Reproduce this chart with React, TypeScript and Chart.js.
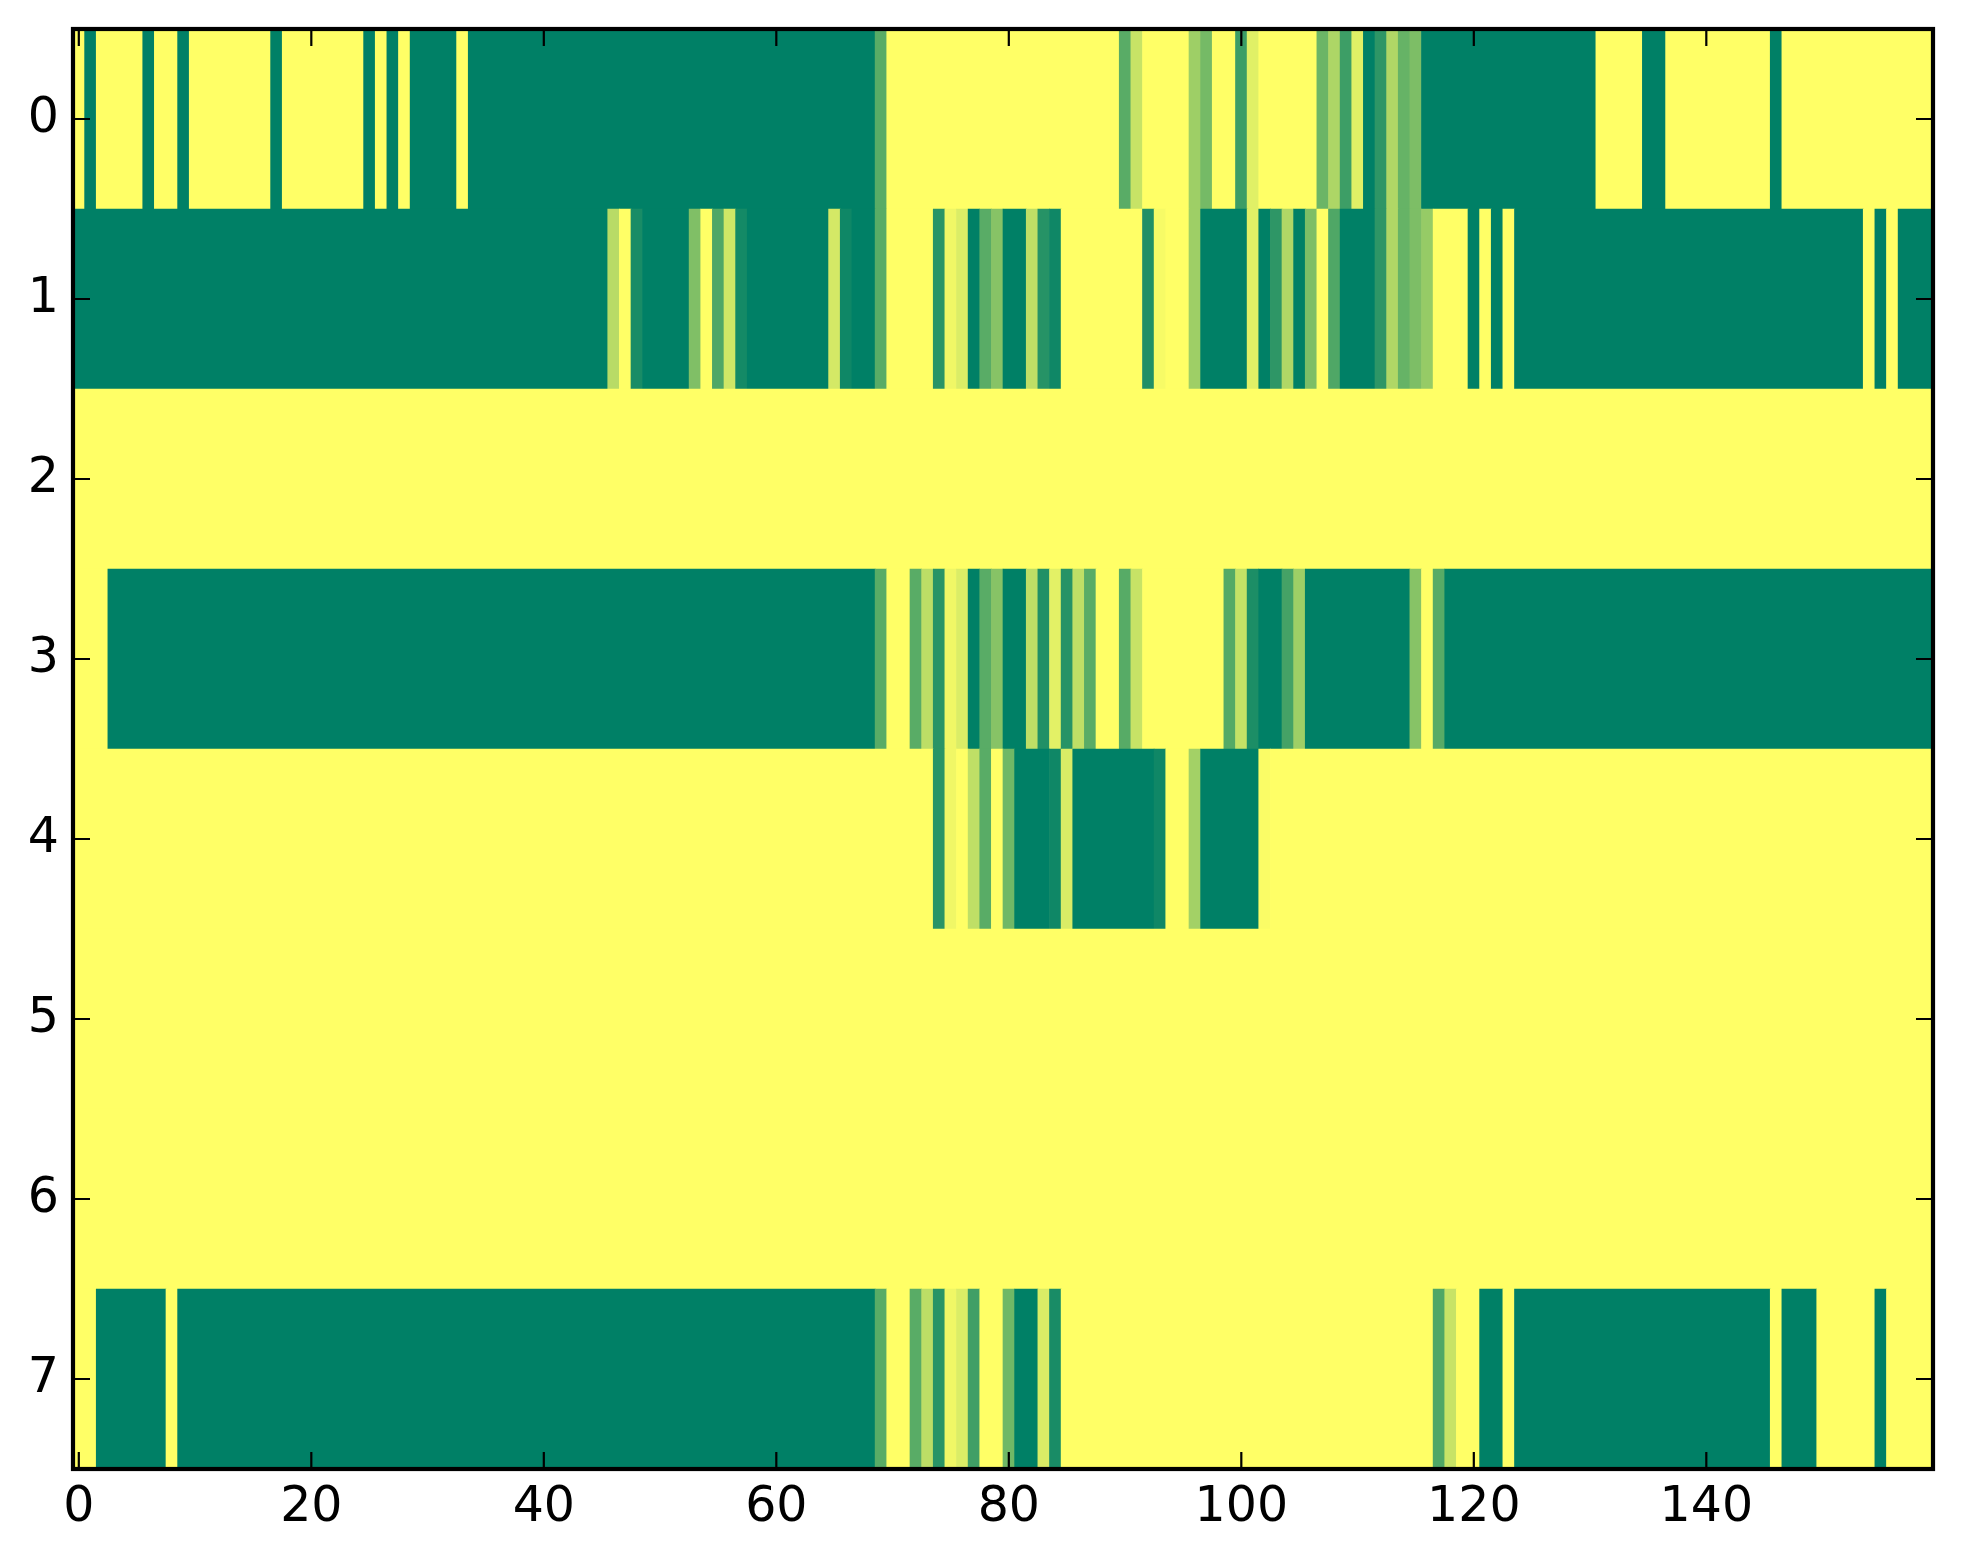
import React, { useEffect, useRef } from "react";
import { Chart, registerables } from "chart.js";

Chart.register(...registerables);

// Each row lists [first column, value]; a value holds until the next entry.
const row0: number[][] = [[0,0],[1,1],[2,0],[6,1],[7,0],[9,1],[10,0],[17,1],[18,0],[25,1],[26,0],[27,1],[28,0],[29,1],[33,0],[34,1],[69,.65],[70,0],[90,.65],[91,.22],[92,0],[96,.38],[97,.54],[98,0],[100,.77],[101,.12],[102,0],[107,.58],[108,.32],[109,.76],[110,.12],[111,1],[112,.82],[113,.31],[114,.6],[115,.51],[116,1],[131,0],[135,1],[137,0],[146,1],[147,0]];
const row1: number[][] = [[0,1],[46,.28],[47,0],[48,.9],[49,1],[53,.5],[54,0],[55,.69],[56,.19],[57,.92],[58,1],[65,.17],[66,.94],[67,1],[69,.65],[70,0],[74,.84],[75,.06],[76,.14],[77,1],[78,.65],[79,.47],[80,1],[82,.25],[83,.85],[84,.94],[85,0],[92,.87],[93,.03],[94,0],[96,.38],[97,1],[101,.12],[102,1],[103,.82],[104,.31],[105,1],[106,.51],[107,0],[108,.69],[109,1],[112,.82],[113,.31],[114,.6],[115,.51],[116,.41],[117,0],[120,1],[121,0],[122,1],[123,0],[124,1],[154,0],[155,1],[156,0],[157,1]];
const row2: number[][] = [[0,0]];
const row3: number[][] = [[0,0],[3,1],[69,.65],[70,0],[72,.65],[73,.26],[74,.84],[75,.06],[76,.14],[77,1],[78,.65],[79,.47],[80,1],[82,.25],[83,.87],[84,.11],[85,.85],[86,.25],[87,.65],[88,0],[90,.66],[91,.22],[92,0],[99,.67],[100,.23],[101,.89],[102,1],[104,.73],[105,.38],[106,1],[115,.47],[116,0],[117,.66],[118,1]];
const row4: number[][] = [[0,0],[74,.84],[75,.06],[76,0],[77,.25],[78,.65],[79,0],[80,.56],[81,1],[84,.94],[85,.15],[86,1],[93,.94],[94,0],[96,.36],[97,1],[102,.02],[103,0]];
const row5: number[][] = [[0,0]];
const row6: number[][] = [[0,0]];
const row7: number[][] = [[0,0],[2,1],[8,0],[9,1],[69,.65],[70,0],[72,.65],[73,.26],[74,.84],[75,.06],[76,.14],[77,.75],[78,0],[80,.56],[81,1],[83,.15],[84,.9],[85,0],[117,.69],[118,.22],[119,0],[121,1],[123,0],[124,1],[146,0],[147,1],[150,0],[155,1],[156,0]];

const rows = [row0, row1, row2, row3, row4, row5, row6, row7];
const columnCount = 160;
const xTicks = [0, 20, 40, 60, 80, 100, 120, 140];
const yTicks = [0, 1, 2, 3, 4, 5, 6, 7];

// matplotlib "summer_r": 0 is yellow, 1 is green
const colour = (v: number) =>
  `rgb(${Math.round(255 * (1 - v))},${Math.round(255 * (1 - v / 2))},102)`;

const cells: { x: number[]; y: number }[] = [];
const cellColours: string[] = [];
rows.forEach((runs, y) => {
  runs.forEach(([start, v], i) => {
    const end = i + 1 < runs.length ? runs[i + 1][0] : columnCount;
    cells.push({ x: [start - 0.5, end - 0.5], y });
    cellColours.push(colour(v));
  });
});

const font = { family: "'DejaVu Sans'", size: 49 };

const noOverflow = (s: any) => {
  s.paddingTop = 0;
  s.paddingBottom = 0;
  s.paddingLeft = 0;
  s.paddingRight = 0;
};

const framePlugin = {
  id: "frame",
  afterDatasetsDraw(chart: any) {
    const { ctx, chartArea: a, scales } = chart;
    ctx.save();
    ctx.strokeStyle = "#000";
    ctx.lineWidth = 2.2;
    ctx.beginPath();
    for (const t of xTicks) {
      const p = scales.x.getPixelForValue(t);
      ctx.moveTo(p, a.top);
      ctx.lineTo(p, a.top + 17);
      ctx.moveTo(p, a.bottom);
      ctx.lineTo(p, a.bottom - 17);
    }
    for (const t of yTicks) {
      const p = scales.y.getPixelForValue(t);
      ctx.moveTo(a.left, p);
      ctx.lineTo(a.left + 17, p);
      ctx.moveTo(a.right, p);
      ctx.lineTo(a.right - 17, p);
    }
    ctx.stroke();
    ctx.lineWidth = 4.2;
    ctx.strokeRect(a.left, a.top, a.right - a.left, a.bottom - a.top);
    ctx.restore();
  },
};

export default function App() {
  const ref = useRef<HTMLCanvasElement>(null);
  useEffect(() => {
    const chart = new Chart(ref.current as HTMLCanvasElement, {
      type: "bar",
      data: {
        datasets: [
          {
            data: cells as any,
            backgroundColor: cellColours,
            borderWidth: 0,
            barPercentage: 1,
            categoryPercentage: 1,
            grouped: false,
          } as any,
        ],
      },
      plugins: [framePlugin as any],
      options: {
        indexAxis: "y",
        responsive: false,
        animation: false,
        devicePixelRatio: 1,
        layout: { padding: { top: 29, right: 30, left: 0, bottom: 0 } },
        plugins: { legend: { display: false }, tooltip: { enabled: false } },
        scales: {
          x: {
            type: "linear",
            position: "bottom",
            min: -0.5,
            max: columnCount - 0.5,
            grid: { display: false, drawTicks: false },
            border: { display: false },
            afterBuildTicks: (s: any) => {
              s.ticks = xTicks.map((value) => ({ value }));
            },
            afterFit: (s: any) => {
              s.height = 1564 - 1469;
              noOverflow(s);
            },
            ticks: { font, color: "#000", padding: 10, maxRotation: 0, autoSkip: false },
          },
          y: {
            type: "linear",
            reverse: true,
            offset: false,
            min: -0.5,
            max: 7.5,
            grid: { display: false, drawTicks: false },
            border: { display: false },
            afterBuildTicks: (s: any) => {
              s.ticks = yTicks.map((value) => ({ value }));
            },
            afterFit: (s: any) => {
              s.width = 73;
              noOverflow(s);
            },
            ticks: { font, color: "#000", padding: 14, autoSkip: false },
          },
        },
      } as any,
    });
    return () => chart.destroy();
  }, []);
  return (
    <div style={{ position: "absolute", left: 0, top: 0, width: 1963, height: 1564, background: "#fff" }}>
      <canvas ref={ref} width={1963} height={1564} style={{ display: "block" }} />
    </div>
  );
}
